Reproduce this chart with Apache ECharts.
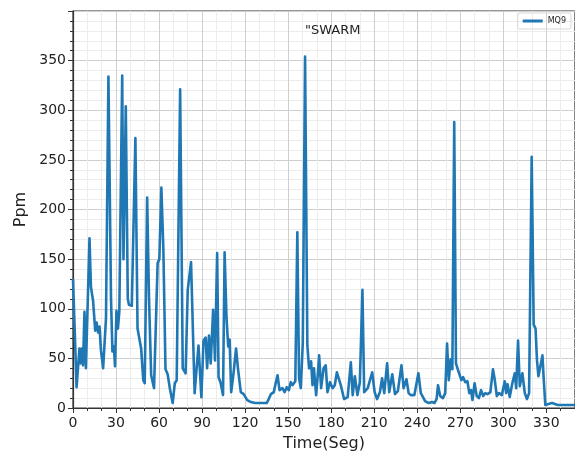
<!DOCTYPE html>
<html>
<head>
<meta charset="utf-8">
<script src="https://cdn.jsdelivr.net/npm/echarts@6/dist/echarts.min.js"></script>
<style>
  html, body { margin: 0; padding: 0; background: #fff; }
  #chart { width: 575px; height: 458px; }
</style>
</head>
<body>
<div id="chart"></div>
<script>
// time (s) and MQ9 reading (ppm)
let times = [
    0, 1.3, 2.5, 3.5, 4.5, 5.3, 6.2, 7, 8, 9, 10, 11.5, 12.5, 14, 15.5, 16.5, 17.5, 18.5, 19.5, 21,
    22, 23, 24.7, 26.5, 27.5, 28.5, 29.3, 30.3, 31.3, 32.3, 34.3, 35.2, 36.8, 38.2, 39, 40, 41, 43.5, 45, 46,
    47.5, 49, 50, 51.7, 53, 54.5, 56.5, 57.5, 59, 60.2, 61.6, 63, 64.5, 66, 67.5, 69.5, 71, 72.3, 74.7, 76.5,
    78.5, 80, 80.8, 82.3, 84.8, 86, 87.5, 89.5, 91, 92.5, 93.5, 94.8, 96, 97.7, 99, 100.5, 101.5, 102.8, 104.6, 105.7,
    107, 108.2, 109.2, 110.3, 112, 113.7, 115, 117, 119, 121.5, 124, 127, 135, 136.5, 138, 140, 141, 142.6, 144, 146,
    147.5, 149, 150.5, 151.8, 153, 155, 156.4, 157.6, 158.8, 160.2, 161.8, 163.4, 164.6, 166, 167, 168, 169.5, 170.5, 171.6, 173,
    174.7, 176.2, 177.4, 179.2, 181, 182.5, 184, 186.7, 189, 191.5, 193.7, 195, 196.5, 198.3, 200, 201.8, 203, 205.5, 208.6, 210.3,
    212, 214, 215.5, 217, 219, 220.5, 222.6, 224.5, 226.5, 229, 230.5, 232.5, 234, 235.5, 238, 240.8, 242.5, 245.5, 248, 250.3,
    252, 253.5, 254.5, 256, 258, 259.5, 260.8, 262, 263.3, 264.5, 265.8, 267, 268.5, 270.8, 272, 273.5, 275, 276.3, 277.5, 278.5,
    280, 281.5, 283, 284.5, 286, 287.5, 289, 291, 292.8, 294, 295.5, 297, 299, 301, 302, 303, 304.5, 306.3, 308, 309,
    310.3, 311.5, 313.3, 315, 316.5, 318, 319.8, 321.2, 322.5, 323.5, 324.5, 325.8, 327.3, 328.2, 329.3, 331.5, 334, 336, 338, 350
];
let ppm = [
    130, 128, 21, 20, 60, 45, 60, 43, 97, 40, 41, 171, 122, 108, 78, 86, 76, 82, 58, 40,
    38, 90, 334, 110, 57, 62, 42, 98, 80, 97, 335, 150, 304, 110, 104, 106, 103, 272, 80, 82,
    60, 28, 25, 212, 110, 33, 20, 22, 146, 150, 222, 160, 39, 34, 20, 5, 25, 28, 321, 40,
    35, 119, 120, 147, 15, 16, 63, 11, 68, 71, 40, 73, 45, 99, 48, 156, 31, 26, 13, 157,
    92, 62, 69, 16, 36, 60, 40, 16, 14, 8, 6, 5, 5, 9, 14, 16, 23, 33, 18, 20,
    16, 21, 18, 26, 23, 27, 177, 30, 20, 65, 354, 63, 40, 47, 23, 40, 13, 30, 53, 20,
    40, 43, 16, 26, 20, 23, 36, 23, 9, 11, 46, 13, 32, 13, 26, 119, 16, 20, 36, 16,
    9, 16, 30, 15, 45, 16, 34, 14, 17, 43, 20, 29, 15, 13, 13, 35, 15, 7, 5, 6,
    5, 9, 23, 12, 10, 15, 65, 28, 49, 39, 288, 45, 38, 28, 31, 26, 27, 15, 18, 8,
    25, 12, 10, 18, 12, 15, 14, 16, 39, 29, 12, 15, 13, 27, 15, 24, 11, 25, 35, 20,
    68, 22, 35, 15, 9, 15, 253, 84, 80, 48, 32, 30, 53, 29, 3, 4, 5, 4, 3, 3
];
let xTicks = [0, 30, 60, 90, 120, 150, 180, 210, 240, 270, 300, 330];
let yTicks = [0, 50, 100, 150, 200, 250, 300, 350];

let points = times.map((t, i) => [t, ppm[i]]);

let labelFont = { color: '#222', fontSize: 14, fontFamily: 'DejaVu Sans' };

let option = {
    animation: false,
    title: {
        text: '"SWARM',
        left: 300,
        top: 19,
        textStyle: { color: '#222', fontSize: 13, fontWeight: 'normal', fontFamily: 'DejaVu Sans' },
    },
    legend: {
        data: ['MQ9'],
        right: 4,
        top: 13,
        icon: 'rect',
        itemWidth: 20,
        itemHeight: 3,
        itemGap: 4,
        padding: [4, 5],
        borderColor: '#d8d8d8',
        borderWidth: 1,
        borderRadius: 2,
        textStyle: { fontSize: 8, color: '#222', fontFamily: 'DejaVu Sans' },
    },
    grid: {
        left: 73,
        right: -3,
        top: 11,
        bottom: 50,
        show: true,
        borderColor: '#333',
        borderWidth: 1.2,
    },
    xAxis: {
        type: 'value',
        min: 0,
        max: 350,
        interval: 30,
        name: 'Time(Seg)',
        nameLocation: 'middle',
        nameGap: 28,
        nameTextStyle: { color: '#222', fontSize: 16, fontFamily: 'DejaVu Sans' },
        axisLine: { lineStyle: { color: '#333', width: 1.2 } },
        axisTick: { show: true, length: 5, lineStyle: { color: '#333' } },
        minorTick: { show: true, splitNumber: 3, length: 3, lineStyle: { color: '#333' } },
        axisLabel: {
            ...labelFont,
            margin: 8,
            showMaxLabel: false,
            formatter: (v) => xTicks.includes(v) ? String(v) : '',
        },
        splitLine: { show: true, lineStyle: { color: '#cfcfcf', width: 1 } },
        minorSplitLine: { show: true, lineStyle: { color: '#ececec', width: 1 } },
    },
    yAxis: {
        type: 'value',
        min: 0,
        max: 400,
        interval: 50,
        name: 'Ppm',
        nameLocation: 'middle',
        nameGap: 44,
        nameTextStyle: { color: '#222', fontSize: 16, fontFamily: 'DejaVu Sans' },
        axisLine: { show: true, lineStyle: { color: '#333', width: 1.2 } },
        axisTick: { show: true, length: 5, lineStyle: { color: '#333' } },
        minorTick: { show: true, splitNumber: 5, length: 3, lineStyle: { color: '#333' } },
        axisLabel: {
            ...labelFont,
            margin: 7,
            showMaxLabel: false,
            formatter: (v) => yTicks.includes(v) ? String(v) : '',
        },
        splitLine: { show: true, lineStyle: { color: '#cfcfcf', width: 1 } },
        minorSplitLine: { show: true, lineStyle: { color: '#ececec', width: 1 } },
    },
    series: [{
        name: 'MQ9',
        type: 'line',
        data: points,
        showSymbol: false,
        color: '#1f77b4',
        lineStyle: { width: 2.6, join: 'round' },
    }],
};

let myChart = echarts.init(document.getElementById('chart'));
myChart.setOption(option);
</script>
</body>
</html>
